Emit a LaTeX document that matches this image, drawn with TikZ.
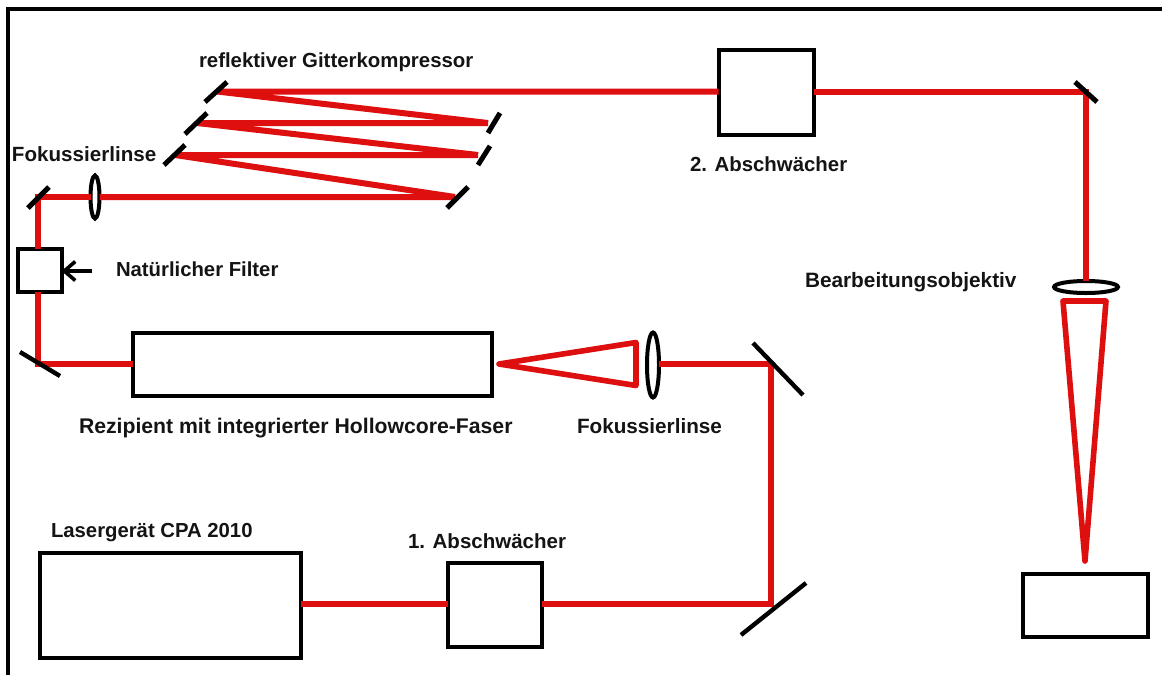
\documentclass[tikz,border=0pt]{standalone}
\usepackage{fontspec}
\setmainfont{Liberation Sans}
\usetikzlibrary{shapes.geometric,arrows.meta}
\definecolor{beamred}{HTML}{DE0F0F}
\tikzset{
  lbl/.style={anchor=base west,inner sep=0pt,outer sep=0pt,text=black!92,font=\fontsize{#1}{22}\selectfont\bfseries},
  device/.style={draw=black,fill=white,line width=4pt,inner sep=0pt,outer sep=0pt,rectangle},
  beam/.style={draw=beamred,line width=6pt},
  beamfig/.style={draw=beamred,line width=5.6pt,line join=round},
  mirrorbig/.style={draw=black,line width=4.4pt},
  mirrorsmall/.style={draw=black,line width=5pt},
  lens/.style={draw=black,fill=white,line width=4pt,ellipse,inner sep=0pt,outer sep=0pt},
  pointer/.style={draw=black,line width=3.6pt,-{Straight Barb[length=11pt,width=19pt,line width=3.6pt]}}
}
\begin{document}
\begin{tikzpicture}[x=1pt,y=-1pt]
\useasboundingbox (0,0) rectangle (1162,675);
\fill[white] (0,0) rectangle (1162,675);
% frame
\coordinate (frameA) at (8,675);
\coordinate (frameB) at (8,8.5);
\coordinate (frameC) at (1162,8.5);
\draw[black,line width=4pt,line join=miter] (frameA) -- (frameB) -- (frameC);
% beam corners
\coordinate (cBR) at (771,604);
\coordinate (cTR) at (771,364);
\coordinate (cL) at (38,364);
\coordinate (cF) at (38,197);
\coordinate (g0) at (455,197);
\coordinate (g1) at (175,155);
\coordinate (g2) at (478,155);
\coordinate (g3) at (197,123);
\coordinate (g4) at (488,123);
\coordinate (g5) at (217,91.5);
\coordinate (cO) at (1086,91.5);
% mirrors ends
\coordinate (m1a) at (741,635); \coordinate (m1b) at (806,583);
\coordinate (m2a) at (753,343); \coordinate (m2b) at (803,395);
\coordinate (m3a) at (20,352);  \coordinate (m3b) at (60,376);
\coordinate (m4a) at (28,208);  \coordinate (m4b) at (49,187);
\coordinate (m5a) at (447,208); \coordinate (m5b) at (468,187);
\coordinate (m6a) at (164,165); \coordinate (m6b) at (185,145);
\coordinate (m7a) at (478,165); \coordinate (m7b) at (490,146);
\coordinate (m8a) at (185,134); \coordinate (m8b) at (207,113);
\coordinate (m9a) at (488,133); \coordinate (m9b) at (500,113);
\coordinate (m10a) at (205,102); \coordinate (m10b) at (227,82);
\coordinate (m11a) at (1075,82); \coordinate (m11b) at (1097,102);
% devices
\node[device,minimum width=261pt,minimum height=105pt] (laser) at (170,605.5) {};
\node[device,minimum width=94pt,minimum height=84pt] (att1) at (494.5,605) {};
\node[device,minimum width=359pt,minimum height=63pt] (rez) at (312,364.5) {};
\node[device,minimum width=44pt,minimum height=43pt] (filter) at (39.5,270.5) {};
\node[device,minimum width=95pt,minimum height=85pt] (att2) at (766,92.5) {};
\node[device,minimum width=125pt,minimum height=63pt] (work) at (1085.5,605.5) {};
\node[lens,minimum width=12pt,minimum height=65pt] (lensA) at (653,365) {};
\node[lens,minimum width=9pt,minimum height=43pt] (lensB) at (95,197) {};
\node[lens,minimum width=64pt,minimum height=12pt] (lensC) at (1086,287) {};
% beams
\draw[beam] (laser.east |- cBR) -- (att1.west |- cBR);
\draw[beam] (att1.east |- cBR) -- (cBR) -- (cTR) -- (lensA.east |- cTR);
\draw[beam] (rez.west |- cL) -- (cL) -- (filter.south -| cL);
\draw[beam] (filter.north -| cL) -- (cF) -- (lensB.west |- cF);
\draw[beam] (lensB.east |- cF) -- (g0) -- (g1) -- (g2) -- (g3) -- (g4) -- (g5) -- (att2.west |- g5);
\draw[beam] (att2.east |- g5) -- (cO) -- (lensC.north -| cO);
% focused beam shapes
\coordinate (tA) at (499,364);
\coordinate (tB) at (636,342.5);
\coordinate (tC) at (636,385.5);
\draw[beamfig] (tA) -- (tB) -- (tC) -- cycle;
\coordinate (oA) at (1063,301);
\coordinate (oB) at (1106,301);
\coordinate (oC) at (1085,561);
\draw[beamfig] (oA) -- (oB) -- (oC) -- cycle;
% mirrors
\draw[mirrorbig] (m1a) -- (m1b);
\draw[mirrorbig] (m2a) -- (m2b);
\draw[mirrorbig] (m3a) -- (m3b);
\foreach \m in {m4,m5,m6,m7,m8,m9,m10,m11}{\draw[mirrorsmall] (\m a) -- (\m b);}
% pointer
\coordinate (ptail) at (92,271);
\draw[pointer] (ptail) -- (filter.east |- ptail);
% labels
\node[lbl=20.4] (t1) at (199,67) {reflektiver Gitterkompressor};
\node[lbl=20.6] (t2) at (12,161) {Fokussierlinse};
\node[lbl=20.3] (t3) at (116,276.5) {Natürlicher Filter};
\node[lbl=21.2] (t4) at (79,433) {Rezipient mit integrierter Hollowcore-Faser};
\node[lbl=20.7] (t5) at (577,433) {Fokussierlinse};
\node[lbl=20.3] (t6) at (51,537) {Lasergerät CPA 2010};
\node[lbl=20.5] (t7) at (408,548) {1. Abschwächer};
\node[lbl=20.4] (t8) at (690,171) {2. Abschwächer};
\node[lbl=20.8] (t9) at (805,287) {Bearbeitungsobjektiv};
\end{tikzpicture}
\end{document}
